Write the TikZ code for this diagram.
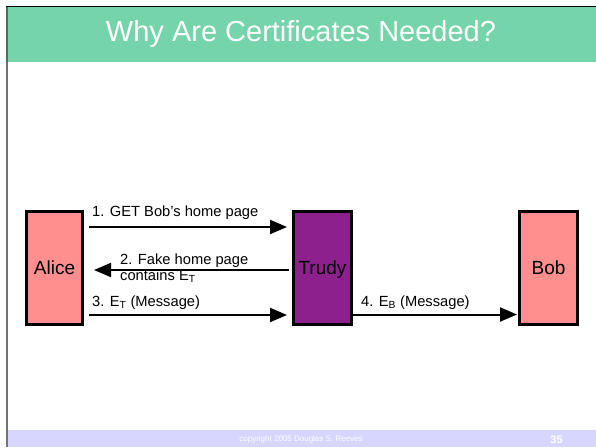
\documentclass[tikz,border=0pt]{standalone}
\usepackage{fontspec}
\setmainfont{Liberation Sans}
\usetikzlibrary{arrows.meta}

\definecolor{bandgreen}{RGB}{118,212,170}
\definecolor{footlav}{RGB}{214,214,255}
\definecolor{pinkfill}{RGB}{255,143,143}
\definecolor{trudyfill}{RGB}{142,32,142}

\tikzset{
  party/.style={draw=black, line width=3pt, minimum width=56pt, minimum height=113pt,
    inner sep=0pt, text height=15pt, text depth=2pt, font=\fontsize{19}{22}\selectfont},
  msg/.style={line width=2pt, -{Triangle[length=17pt,width=14pt]}},
  lbl/.style={inner sep=0pt, anchor=base west, font=\fontsize{14.7}{16}\selectfont, align=left},
}

\begin{document}
\begin{tikzpicture}[x=1pt, y=-1pt]
  \useasboundingbox (0,0) rectangle (596,447);
  \fill[white] (0,0) rectangle (596,447);

  % title band
  \fill[bandgreen] (6,6.5) rectangle (596,62);
  \draw[black, line width=0.8pt] (6,6.5) -- (596,6.5);
  \node (title) at (301,34) {\color{white}\fontsize{29}{34}\selectfont Why Are Certificates Needed?};

  % footer band
  \fill[footlav] (6,430) rectangle (596,447);
  \node (copy) at (301,439.5) {\color{white}\fontsize{8}{9}\selectfont copyright 2005 Douglas S. Reeves};
  \node (pageno) at (556.5,439.5) {\color{white}\fontsize{11}{12}\selectfont\bfseries 35};

  % left margin rule
  \draw[black!55, line width=1.3pt] (7,62) -- (7,447);
  \draw[black!45!bandgreen, line width=1.3pt] (7,6.5) -- (7,62);

  % parties
  \node[party, fill=pinkfill] (Alice) at (54.5,268) {Alice};
  \node[party, fill=trudyfill, minimum width=58pt] (Trudy) at (322.5,268) {Trudy};
  \node[party, fill=pinkfill, minimum width=58pt] (Bob) at (548.5,268) {Bob};

  % messages
  \draw[msg] ([shift={(5,-41)}]Alice.east) -- ([shift={(-5,-41)}]Trudy.west);
  \node[lbl] (m1) at (92,216) {1. GET Bob’s home page};

  \draw[msg] ([shift={(-3,2)}]Trudy.west) -- ([shift={(10,2)}]Alice.east);
  \node[lbl] (m2a) at (120,264) {2. Fake home page};
  \node[lbl] (m2b) at (120,280.5) {contains E\textsubscript{T}};

  \draw[msg] ([shift={(5,47)}]Alice.east) -- ([shift={(-5,47)}]Trudy.west);
  \node[lbl] (m3) at (92,306) {3. E\textsubscript{T} (Message)};

  \draw[msg] ([shift={(0,46.5)}]Trudy.east) -- ([shift={(-1,46.5)}]Bob.west);
  \node[lbl] (m4) at (361,306) {4. E\textsubscript{B} (Message)};
\end{tikzpicture}
\end{document}
